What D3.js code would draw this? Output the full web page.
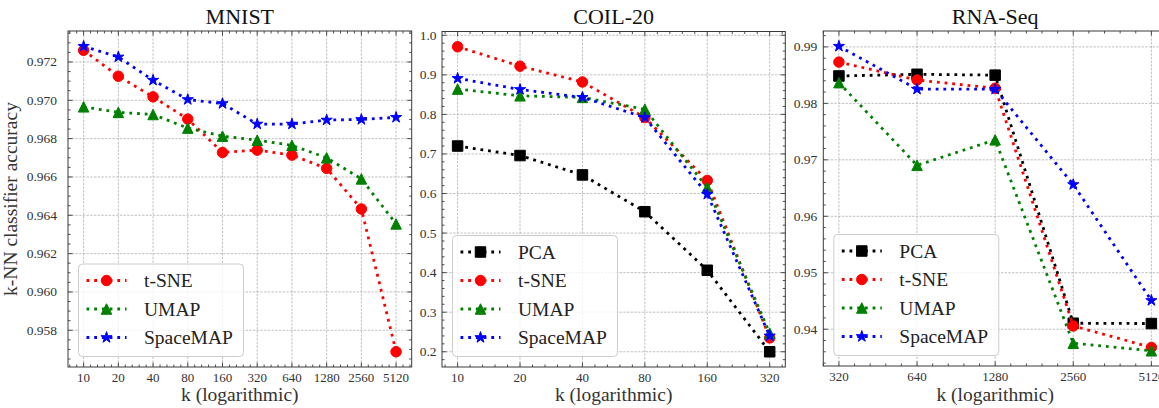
<!DOCTYPE html>
<html><head><meta charset="utf-8">
<script src="https://cdn.jsdelivr.net/npm/d3@7"></script>
<style>
body{margin:0;background:#fff;overflow:hidden;}
svg{display:block;}
text{font-family:"Liberation Serif","Times New Roman",serif;fill:#111;}
</style></head><body>
<svg id="chart" width="1159" height="408"></svg>
<script>
// ---------------- data ----------------
const methodNames = ["PCA", "t-SNE", "UMAP", "SpaceMAP"];
const methodColors = ["#000000", "#ff0000", "#008000", "#0000ff"];
const methodMarkers = ["square", "circle", "triangle", "star"];

const panelTitles = ["MNIST", "COIL-20", "RNA-Seq"];

const mnistK = [10, 20, 40, 80, 160, 320, 640, 1280, 2560, 5120];
const mnistTsne = [0.97261, 0.97126, 0.97018, 0.96902, 0.96728, 0.96740, 0.96714, 0.96645, 0.96433, 0.95688];
const mnistUmap = [0.96966, 0.96937, 0.96926, 0.96855, 0.96813, 0.96792, 0.96765, 0.96700, 0.96590, 0.96355];
const mnistSpace = [0.97282, 0.97226, 0.97105, 0.97004, 0.96983, 0.96876, 0.96876, 0.96897, 0.96900, 0.96911];
const mnistYTicks = [0.958, 0.960, 0.962, 0.964, 0.966, 0.968, 0.970, 0.972];

const coilK = [10, 20, 40, 80, 160, 320];
const coilPca = [0.720, 0.696, 0.647, 0.554, 0.406, 0.200];
const coilTsne = [0.971, 0.922, 0.882, 0.792, 0.633, 0.235];
const coilUmap = [0.864, 0.847, 0.843, 0.813, 0.615, 0.247];
const coilSpace = [0.891, 0.863, 0.843, 0.792, 0.598, 0.240];
const coilYTicks = [0.2, 0.3, 0.4, 0.5, 0.6, 0.7, 0.8, 0.9, 1.0];

const rnaK = [320, 640, 1280, 2560, 5120];
const rnaPca = [0.98485, 0.98515, 0.98500, 0.94106, 0.94100];
const rnaTsne = [0.98731, 0.98414, 0.98268, 0.94058, 0.93678];
const rnaUmap = [0.98367, 0.96902, 0.97354, 0.93752, 0.93618];
const rnaSpace = [0.99012, 0.98251, 0.98251, 0.96562, 0.94509];
const rnaYTicks = [0.94, 0.95, 0.96, 0.97, 0.98, 0.99];

const xLabel = "k (logarithmic)";
const yLabel = "k-NN classifier accuracy";

// ---------------- layout ----------------
const svg = d3.select("#chart");

const panels = [
  {title: panelTitles[0], k: mnistK, series: [[1, mnistTsne], [2, mnistUmap], [3, mnistSpace]],
   yTicks: mnistYTicks, fmt: d3.format(".3f"), yMinorDiv: 4,
   box: {left: 68, right: 411.7, top: 31, bottom: 367}, labelGap: 11},
  {title: panelTitles[1], k: coilK, series: [[0, coilPca], [1, coilTsne], [2, coilUmap], [3, coilSpace]],
   yTicks: coilYTicks, fmt: d3.format(".1f"), yMinorDiv: 5,
   box: {left: 442, right: 785.3, top: 31.5, bottom: 367}, labelGap: 5.5},
  {title: panelTitles[2], k: rnaK, series: [[0, rnaPca], [1, rnaTsne], [2, rnaUmap], [3, rnaSpace]],
   yTicks: rnaYTicks, fmt: d3.format(".2f"), yMinorDiv: 5,
   box: {left: 823.3, right: 1167, top: 31, bottom: 366}, labelGap: 6}
];

function markerPath(type, s) {
  const h = s / 2;
  if (type === "square") return `M${-h},${-h}H${h}V${h}H${-h}Z`;
  if (type === "circle") return `M${h},0A${h},${h} 0 1,1 ${-h},0A${h},${h} 0 1,1 ${h},0Z`;
  if (type === "triangle") return `M0,${-h}L${-h},${h}L${h},${h}Z`;
  // star
  const R = h * 1.12, r = R * 0.381966;
  let p = "";
  for (let i = 0; i < 10; i++) {
    const a = -Math.PI / 2 + i * Math.PI / 5;
    const rr = i % 2 === 0 ? R : r;
    p += (i === 0 ? "M" : "L") + (rr * Math.cos(a)).toFixed(3) + "," + (rr * Math.sin(a)).toFixed(3);
  }
  return p + "Z";
}
const MS = 10.5;
const LW = 2.8;
const DASH = "2.8 4.9";

panels.forEach((P, pi) => {
  const b = P.box;
  const g = svg.append("g");
  const k0 = P.k[0], k1 = P.k[P.k.length - 1];
  const oct = Math.log2(k1 / k0);
  const xDom = [k0 * Math.pow(2, -0.05 * oct), k1 * Math.pow(2, 0.05 * oct)];
  const x = d3.scaleLog().base(2).domain(xDom).range([b.left, b.right]);
  const allV = P.series.flatMap(s => s[1]);
  const vmin = d3.min(allV), vmax = d3.max(allV), m = (vmax - vmin) * 0.05;
  const y = d3.scaleLinear().domain([vmin - m, vmax + m]).range([b.bottom, b.top]);

  const clipId = "clip" + pi;
  svg.append("defs").append("clipPath").attr("id", clipId)
    .append("rect").attr("x", b.left).attr("y", b.top).attr("width", b.right - b.left).attr("height", b.bottom - b.top);

  // grid
  const grid = g.append("g").attr("stroke", "#b0b0b0").attr("stroke-width", 0.8).attr("stroke-dasharray", "2.4 1.3");
  P.k.forEach(k => grid.append("line").attr("x1", x(k)).attr("x2", x(k)).attr("y1", b.top).attr("y2", b.bottom));
  P.yTicks.forEach(v => grid.append("line").attr("x1", b.left).attr("x2", b.right).attr("y1", y(v)).attr("y2", y(v)));

  // series
  const plot = g.append("g").attr("clip-path", `url(#${clipId})`);
  P.series.forEach(([mi, vals]) => {
    const pts = P.k.map((k, i) => [x(k), y(vals[i])]);
    const sg = plot.append("g");
    sg.append("path").attr("d", d3.line()(pts)).attr("fill", "none")
      .attr("stroke", methodColors[mi]).attr("stroke-width", LW).attr("stroke-dasharray", DASH);
    sg.selectAll("path.mk").data(pts).enter().append("path").attr("class", "mk")
      .attr("d", markerPath(methodMarkers[mi], MS))
      .attr("transform", d => `translate(${d[0]},${d[1]})`)
      .attr("fill", methodColors[mi]).attr("stroke", methodColors[mi]).attr("stroke-width", 1);
  });

  // spines
  g.append("rect").attr("x", b.left).attr("y", b.top).attr("width", b.right - b.left).attr("height", b.bottom - b.top)
    .attr("fill", "none").attr("stroke", "#3a3a3a").attr("stroke-width", 1);

  // ticks
  const tk = g.append("g").attr("stroke", "#3a3a3a").attr("stroke-width", 0.9);
  const MAJ = 4.5, MIN = 2.5;
  P.k.forEach(k => {
    const xx = x(k);
    tk.append("line").attr("x1", xx).attr("x2", xx).attr("y1", b.bottom).attr("y2", b.bottom - MAJ);
    tk.append("line").attr("x1", xx).attr("x2", xx).attr("y1", b.top).attr("y2", b.top + MAJ);
  });
  for (let j = -5; j <= oct * 5 + 5; j++) {
    if (j % 5 === 0) continue;
    const kv = k0 * Math.pow(2, j / 5);
    if (kv < xDom[0] || kv > xDom[1]) continue;
    const xx = x(kv);
    tk.append("line").attr("x1", xx).attr("x2", xx).attr("y1", b.bottom).attr("y2", b.bottom - MIN);
    tk.append("line").attr("x1", xx).attr("x2", xx).attr("y1", b.top).attr("y2", b.top + MIN);
  }
  const step = P.yTicks[1] - P.yTicks[0];
  P.yTicks.forEach(v => {
    const yy = y(v);
    tk.append("line").attr("x1", b.left).attr("x2", b.left + MAJ).attr("y1", yy).attr("y2", yy);
    tk.append("line").attr("x1", b.right).attr("x2", b.right - MAJ).attr("y1", yy).attr("y2", yy);
  });
  const yd = y.domain();
  for (let v = P.yTicks[0] - step; v <= yd[1] + 1e-9; v += step / P.yMinorDiv) {
    if (v < yd[0]) continue;
    const r = (v - P.yTicks[0]) / step;
    if (Math.abs(r - Math.round(r)) < 1e-6) continue;
    const yy = y(v);
    tk.append("line").attr("x1", b.left).attr("x2", b.left + MIN).attr("y1", yy).attr("y2", yy);
    tk.append("line").attr("x1", b.right).attr("x2", b.right - MIN).attr("y1", yy).attr("y2", yy);
  }

  // tick labels
  P.k.forEach(k => g.append("text").attr("x", x(k)).attr("y", b.bottom + 15)
    .attr("text-anchor", "middle").attr("font-size", "13px").style("fill", "#333").text(String(k)));
  P.yTicks.forEach(v => g.append("text").attr("x", b.left - P.labelGap).attr("y", y(v)).attr("dy", "0.33em")
    .attr("text-anchor", "end").attr("font-size", "13.5px").style("fill", "#333").text(P.fmt(v)));

  // title & x label
  g.append("text").attr("x", (b.left + b.right) / 2).attr("y", 23.5).attr("text-anchor", "middle")
    .attr("font-size", "22px").text(P.title);
  g.append("text").attr("x", (b.left + b.right) / 2).attr("y", 400.5).attr("text-anchor", "middle")
    .attr("font-size", "19.5px").style("fill", "#333").text(xLabel);

  // legend
  const L = g.append("g");
  const n = P.series.length;
  const lx = b.left + 10.5, lw = 165;
  const rowGap = 28.5;
  const lastRow = b.bottom - 29.5;
  const firstRow = lastRow - (n - 1) * rowGap;
  const ly = firstRow - 16.5, lh = (b.bottom - 10.5) - ly;
  L.append("rect").attr("x", lx).attr("y", ly).attr("width", lw).attr("height", lh).attr("rx", 4)
    .attr("fill", "#fff").attr("fill-opacity", 0.8).attr("stroke", "#cccccc").attr("stroke-width", 1);
  P.series.forEach(([mi], i) => {
    const ry = firstRow + i * rowGap;
    L.append("path").attr("d", d3.line()([[lx + 8, ry], [lx + 48, ry]])).attr("fill", "none")
      .attr("stroke", methodColors[mi]).attr("stroke-width", LW).attr("stroke-dasharray", DASH);
    L.append("path").attr("d", markerPath(methodMarkers[mi], MS)).attr("transform", `translate(${lx + 28},${ry})`)
      .attr("fill", methodColors[mi]).attr("stroke", methodColors[mi]).attr("stroke-width", 1);
    L.append("text").attr("x", lx + 65.5).attr("y", ry).attr("dy", "0.34em").attr("font-size", "19.5px")
      .style("fill", "#222").text(methodNames[mi]);
  });

  if (pi === 0) {
    g.append("text").attr("transform", `translate(17,${(b.top + b.bottom) / 2}) rotate(-90)`)
      .attr("text-anchor", "middle").attr("font-size", "19.5px").style("fill", "#333").text(yLabel);
  }
});
</script>
</body></html>
